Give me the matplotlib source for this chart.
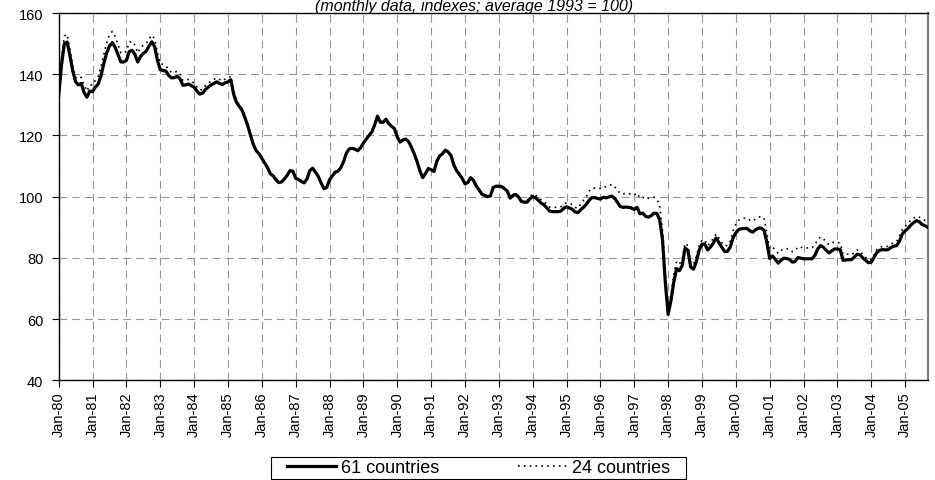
import matplotlib
matplotlib.use("Agg")
import matplotlib.pyplot as plt
from matplotlib.patches import Rectangle

plt.rcParams['font.family'] = ['Liberation Sans', 'DejaVu Sans']

title = "(monthly data, indexes; average 1993 = 100)"
series_names = ["61 countries", "24 countries"]
years = list(range(1980, 2006))
tick_labels = ["Jan-%02d" % (y % 100) for y in years]

# monthly values, Jan-1980 .. Sep-2005
countries61 = [
    133.0, 143.0, 150.0, 150.5, 146.0, 141.0, 137.5, 136.5, 137.0, 134.0, 132.5, 134.5,   # 1980
    134.3, 135.8, 136.8, 139.5, 143.5, 147.0, 149.2, 150.3, 148.8, 146.5, 144.0, 144.0,   # 1981
    144.5, 147.4, 147.8, 146.5, 144.0, 145.8, 146.8, 147.5, 149.2, 150.6, 149.0, 144.5,   # 1982
    141.5, 141.2, 141.0, 139.6, 138.8, 138.9, 139.3, 138.5, 136.4, 136.5, 136.8, 136.3,   # 1983
    135.7, 134.5, 133.5, 133.8, 135.0, 135.8, 136.5, 137.0, 137.5, 137.0, 136.6, 137.2,   # 1984
    137.5, 138.2, 133.5, 130.8, 129.5, 128.2, 125.8, 123.2, 120.0, 117.0, 115.0, 114.0,   # 1985
    112.5, 111.0, 109.5, 107.5, 106.8, 105.5, 104.6, 104.8, 105.8, 107.0, 108.5, 108.3,   # 1986
    106.0, 105.6, 105.0, 104.5, 105.8, 108.5, 109.3, 108.0, 106.6, 104.5, 102.6, 103.0,   # 1987
    105.5, 106.8, 108.0, 108.3, 109.5, 111.5, 114.3, 115.6, 115.8, 115.5, 115.0, 116.0,   # 1988
    117.5, 118.8, 120.0, 121.2, 123.5, 126.3, 124.3, 124.3, 125.3, 123.8, 123.0, 122.2,   # 1989
    119.5, 117.8, 118.5, 118.8, 118.0, 116.2, 114.0, 111.5, 108.5, 106.2, 107.5, 109.2,   # 1990
    108.8, 108.2, 111.5, 113.3, 114.0, 115.2, 114.6, 113.5, 110.5, 108.5, 107.3, 106.0,   # 1991
    104.2, 104.6, 106.2, 105.3, 103.5, 102.2, 100.8, 100.4, 100.0, 100.2, 103.0, 103.4,   # 1992
    103.4, 103.3, 102.6, 101.8, 99.5, 100.4, 100.7, 99.8, 98.4, 98.2, 98.2, 99.3,         # 1993
    100.0, 99.6, 98.8, 97.9, 97.3, 96.3, 95.3, 95.1, 95.1, 95.1, 95.3, 96.2,              # 1994
    96.7, 96.3, 95.9, 95.0, 94.8, 95.7, 96.5, 97.5, 98.8, 99.7, 99.7, 99.4,               # 1995
    99.2, 99.8, 99.6, 99.9, 100.2, 99.5, 98.2, 96.8, 96.5, 96.6, 96.5, 96.3,              # 1996
    95.8, 96.5, 94.4, 94.6, 93.6, 93.3, 93.8, 94.6, 94.5, 92.5, 86.0, 72.0,               # 1997
    61.5, 66.0, 72.0, 76.5, 75.8, 77.5, 83.2, 82.5, 77.0, 76.3, 78.8, 82.5,               # 1998
    84.5, 84.5, 82.6, 83.5, 84.8, 86.5, 85.0, 83.5, 82.1, 82.1, 83.5, 86.5,               # 1999
    88.2, 89.3, 89.5, 89.6, 89.6, 88.8, 88.4, 89.2, 89.7, 89.7, 89.0, 85.0,               # 2000
    79.8, 80.6, 79.5, 78.3, 79.2, 79.9, 79.8, 79.5, 78.6, 78.8, 80.1, 79.9,               # 2001
    79.7, 79.7, 79.7, 79.7, 80.8, 82.9, 84.0, 83.5, 82.5, 81.6, 82.3, 82.9,               # 2002
    82.9, 82.7, 79.2, 79.3, 79.4, 79.4, 80.3, 81.2, 81.0, 80.0, 79.2, 78.4,               # 2003
    78.6, 80.2, 81.8, 82.5, 82.7, 82.6, 82.7, 83.4, 83.8, 84.0, 85.5, 87.8,               # 2004
    88.8, 89.6, 90.7, 91.5, 92.2, 91.8, 90.9, 90.5, 90.0,                                 # 2005
]

countries24 = [
    133.5, 145.0, 152.5, 153.0, 148.0, 142.5, 139.0, 138.5, 139.0, 136.5, 134.5, 136.5,   # 1980
    136.5, 138.0, 139.3, 142.5, 146.5, 150.3, 152.8, 154.0, 152.3, 149.8, 147.0, 146.8,   # 1981
    147.5, 150.4, 150.8, 149.5, 147.0, 148.6, 149.5, 150.0, 151.5, 152.8, 151.5, 147.0,   # 1982
    143.5, 143.2, 142.8, 141.4, 140.6, 140.6, 141.0, 140.0, 138.0, 138.0, 138.3, 137.8,   # 1983
    137.0, 135.8, 134.8, 135.1, 136.3, 137.0, 137.8, 138.3, 138.8, 138.3, 137.8, 138.4,   # 1984
    138.7, 139.3, 134.3, 131.5, 130.1, 128.7, 126.2, 123.5, 120.3, 117.3, 115.2, 114.2,   # 1985
    112.7, 111.2, 109.7, 107.7, 107.0, 105.7, 104.8, 105.0, 106.0, 107.2, 108.7, 108.5,   # 1986
    106.2, 105.8, 105.2, 104.7, 106.0, 108.7, 109.5, 108.2, 106.8, 104.7, 102.8, 103.2,   # 1987
    105.7, 107.0, 108.2, 108.5, 109.7, 111.7, 114.5, 115.8, 116.0, 115.7, 115.2, 116.2,   # 1988
    117.7, 119.0, 120.2, 121.4, 123.7, 126.5, 124.5, 124.5, 125.5, 124.0, 123.2, 122.4,   # 1989
    119.7, 118.0, 118.7, 119.0, 118.2, 116.4, 114.2, 111.7, 108.7, 106.4, 107.7, 109.4,   # 1990
    109.0, 108.4, 111.7, 113.5, 114.2, 115.4, 114.8, 113.7, 110.7, 108.7, 107.5, 106.2,   # 1991
    104.4, 104.8, 106.4, 105.5, 103.7, 102.4, 101.0, 100.6, 100.2, 100.4, 103.2, 103.6,   # 1992
    103.6, 103.5, 102.8, 102.0, 99.8, 100.7, 101.0, 100.2, 98.8, 98.7, 98.8, 100.0,       # 1993
    100.8, 100.5, 99.8, 99.0, 98.4, 97.5, 96.6, 96.5, 96.5, 96.5, 96.7, 97.6,             # 1994
    98.0, 97.8, 97.4, 96.5, 96.2, 97.5, 98.8, 100.0, 101.8, 102.8, 102.8, 102.6,          # 1995
    102.7, 103.3, 103.2, 103.6, 104.0, 103.3, 102.2, 101.0, 100.9, 101.0, 101.0, 100.8,   # 1996
    100.5, 101.2, 99.5, 99.8, 99.2, 99.5, 99.6, 99.8, 99.2, 97.0, 89.0, 74.5,             # 1997
    63.0, 68.0, 74.5, 78.8, 78.0, 79.5, 84.8, 84.0, 78.5, 77.8, 80.5, 84.0,               # 1998
    85.8, 85.8, 84.0, 85.0, 86.3, 87.8, 86.5, 85.0, 84.0, 84.0, 85.5, 88.8,               # 1999
    91.0, 92.3, 92.8, 93.0, 93.0, 92.3, 92.0, 92.8, 93.3, 93.5, 93.0, 88.0,               # 2000
    83.0, 83.5, 82.6, 81.5, 82.4, 83.0, 83.0, 82.8, 82.0, 82.3, 83.6, 83.5,               # 2001
    83.2, 83.2, 83.3, 83.3, 84.2, 86.0, 86.8, 86.3, 85.2, 84.3, 84.8, 85.3,               # 2002
    85.0, 84.8, 81.2, 81.2, 81.2, 81.0, 81.8, 82.6, 82.2, 81.2, 80.2, 79.3,               # 2003
    79.5, 81.1, 82.8, 83.5, 83.7, 83.6, 83.8, 84.5, 85.0, 85.4, 87.0, 89.3,               # 2004
    90.3, 91.2, 92.3, 93.0, 93.6, 93.3, 92.6, 92.3, 92.2,                                 # 2005
]

W, H = 935, 481
fig = plt.figure(figsize=(W / 100, H / 100), dpi=100)
L, R, T, B = 58.7, 927.7, 14.0, 381.3
ax = fig.add_axes([L / W, 1 - B / H, (R - L) / W, (B - T) / H])

x = list(range(len(countries61)))
ax.plot(x, countries61, color='black', lw=2.3, solid_joinstyle='round',
        label=series_names[0], zorder=3)
ax.plot(x, countries24, color='black', lw=1.2, linestyle=(0, (1, 2.5)),
        label=series_names[1], zorder=2)

ax.set_xlim(0, len(countries61) - 1)
ax.set_ylim(40, 160)
ax.set_yticks(range(40, 161, 20))
ax.set_xticks([12 * i for i in range(len(years))])
ax.set_xticklabels(tick_labels, rotation=90)

ax.grid(True, color='#969696', lw=0.8, linestyle=(0, (7, 4.5)))
ax.set_axisbelow(True)

ax.tick_params(axis='y', direction='out', length=5, width=0.8, pad=6,
               labelsize=10.5, colors='black')
ax.tick_params(axis='x', direction='out', length=5, width=0.8, pad=3,
               labelsize=10.5, colors='black')

for s in ['left', 'bottom', 'top']:
    ax.spines[s].set_color('black')
    ax.spines[s].set_linewidth(1.0)
ax.spines['right'].set_color('#808080')
ax.spines['right'].set_linewidth(1.6)

fig.text(474 / W, 1 - 11 / H, title, ha='center', va='baseline',
         fontsize=11.5, style='italic')

# legend frame
fig.patches.append(Rectangle((271 / W, 1 - 480 / H), 415 / W, 22 / H,
                             transform=fig.transFigure, fill=False,
                             edgecolor='black', lw=0.8))
fig.legend(loc='center', bbox_to_anchor=(478.5 / W, 1 - 469 / H), ncol=2,
           frameon=False, fontsize=13, handlelength=2.7, handletextpad=0.25,
           columnspacing=4.4, borderpad=0.0)

fig.savefig('out.png', dpi=100)
